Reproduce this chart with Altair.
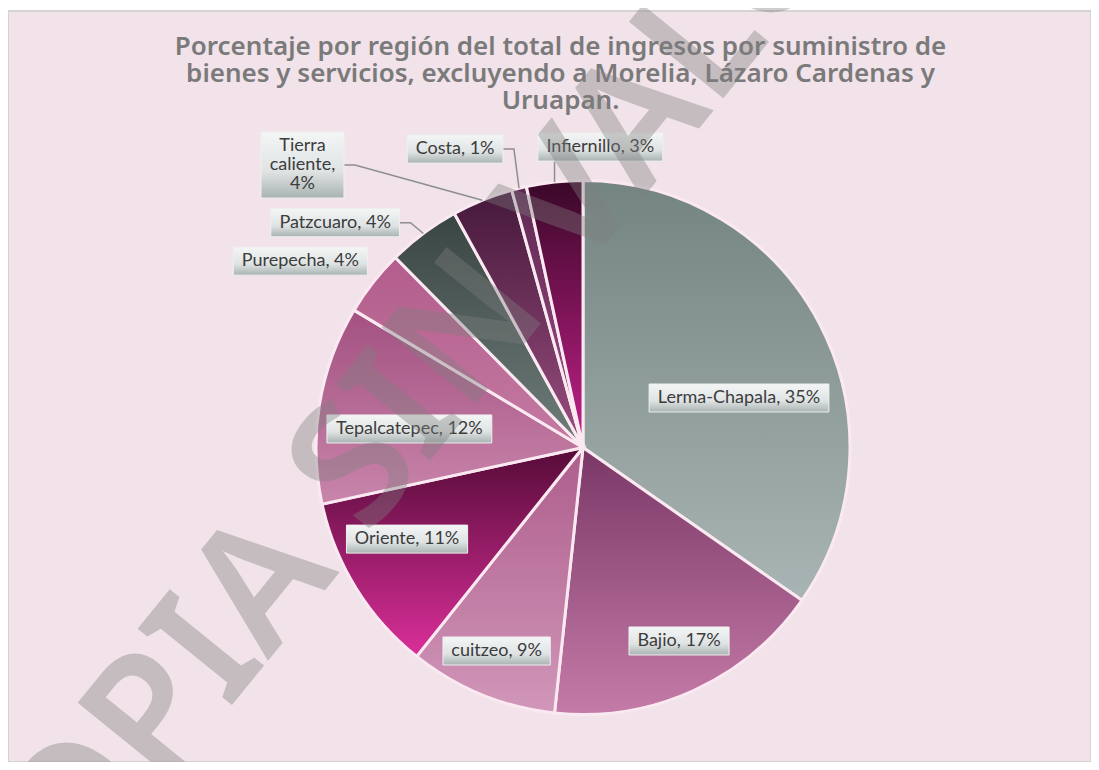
import math
import altair as alt
import pandas as pd

# ---------------- data ----------------
regions = ["Lerma-Chapala", "Bajio", "cuitzeo", "Oriente", "Tepalcatepec",
           "Purepecha", "Patzcuaro", "Tierra caliente", "Costa", "Infiernillo"]
shares = [34.7, 17.0, 9.0, 10.9, 12.0, 4.0, 4.4, 3.7, 0.9, 3.4]

title_lines = ["Porcentaje por región del total de ingresos por suministro de",
               "bienes y servicios, excluyendo a Morelia, Lázaro Cardenas y",
               "Uruapan."]
watermark = "COPIA SIN VALOR"

# ---------------- styling / layout ----------------
slice_top = ["#748481", "#7a3766", "#ad5d8c", "#560b38", "#a35181",
             "#b35d8c", "#394543", "#45183a", "#5e2750", "#3a0828"]
slice_bottom = ["#a9b5b4", "#c57ba8", "#d197b9", "#da2f99", "#c985ab",
                "#c47aa2", "#6f7d7b", "#9a4f80", "#a0508a", "#c4208a"]
# annotation placement of each label box (angle in degrees clockwise from 12h, distance in pie radii)
label_angle = [72.4, 153.6, 203.0, 242.5, 276.1, 303.4, 312.2, 315.2, 336.8, 3.3]
label_radius = [0.613, 0.809, 0.828, 0.743, 0.654, 1.268, 1.253, 1.491, 1.216, 1.127]
wrapped = ["Tierra caliente"]
leader_style = {"Patzcuaro": "right", "Tierra caliente": "right",
                "Costa": "right", "Infiernillo": "bottom"}

W, H = 1083, 751
CX, CY = 575.0, 436.5
R = 267
FS = 18
LH = 19

# approximate Lato advance widths (em)
CW = {"a": .50, "b": .56, "c": .46, "d": .56, "e": .52, "f": .32, "g": .50, "h": .56,
      "i": .24, "j": .24, "k": .50, "l": .24, "m": .83, "n": .56, "o": .56, "p": .56,
      "q": .56, "r": .36, "s": .42, "t": .35, "u": .56, "v": .50, "w": .77, "x": .49,
      "y": .50, "z": .45, "B": .62, "C": .67, "I": .28, "L": .49, "O": .78, "P": .59,
      "T": .57, "%": .76, ",": .22, " ": .26, "-": .36}


def text_w(s):
    return sum(CW.get(ch, .58) for ch in s) * FS


# ---------------- derived tables ----------------
rows, lab_rows, lead_rows = [], [], []
cum = 0.0
for i, (reg, s) in enumerate(zip(regions, shares)):
    start, end = cum, cum + s
    cum = end
    rows.append({"region": reg, "share": s, "start": start, "end": end})
    pct = f"{round(s)}%"
    if reg in wrapped:
        lines = reg.split(" ")
        lines[-1] += ","
        lines.append(pct)
    else:
        lines = [f"{reg}, {pct}"]
    txt = "\n".join(lines)
    bw = max(text_w(l) for l in lines) + 18
    bh = len(lines) * LH + 9
    a = math.radians(label_angle[i])
    px = label_radius[i] * R * math.sin(a)
    py = -label_radius[i] * R * math.cos(a)
    lab_rows.append({"region": reg, "text": txt, "px": px, "py": py,
                     "ty": py - (len(lines) - 1) * LH / 2,
                     "x0": px - bw / 2, "x1": px + bw / 2,
                     "y0": py - bh / 2, "y1": py + bh / 2})
    if reg in leader_style:
        mid = math.radians((start + end) / 2 * 3.6)
        ex, ey = R * math.sin(mid), -R * math.cos(mid)
        if leader_style[reg] == "right":
            pts = [(px + bw / 2, py), (px + bw / 2 + 11, py), (ex, ey)]
        else:
            pts = [(ex, py + bh / 2), (ex, ey)]
        for k, (lx, ly) in enumerate(pts):
            lead_rows.append({"region": reg, "k": k, "lx": lx, "ly": ly})

slices = pd.DataFrame(rows)
labels = pd.DataFrame(lab_rows)
leaders = pd.DataFrame(lead_rows)

xs = alt.Scale(domain=[-CX, W - CX], range=[0, W], nice=False, zero=False)
ys = alt.Scale(domain=[-CY, H - CY], range=[0, H], nice=False, zero=False)
ts = alt.Scale(domain=[0, 100], range=[0, 2 * math.pi])

layers = []
for i, reg in enumerate(regions):
    grad = alt.Gradient(gradient="linear",
                        stops=[alt.GradientStop(color=slice_top[i], offset=0),
                               alt.GradientStop(color=slice_bottom[i], offset=1)],
                        x1=0, x2=0, y1=0, y2=1)
    layers.append(
        alt.Chart(slices).transform_filter(alt.datum.region == reg)
        .mark_arc(outerRadius=R, fill=grad, stroke="#fbe9f1", strokeWidth=3)
        .encode(theta=alt.Theta("start:Q", scale=ts, stack=None),
                theta2="end:Q",
                x=alt.X(datum=0, type="quantitative", scale=xs, axis=None),
                y=alt.Y(datum=0, type="quantitative", scale=ys, axis=None))
    )

lead = alt.Chart(leaders).mark_line(color="#8e8e8e", strokeWidth=1.5).encode(
    x=alt.X("lx:Q", scale=xs, axis=None),
    y=alt.Y("ly:Q", scale=ys, axis=None),
    detail="region:N", order="k:Q")

box_grad = alt.Gradient(gradient="linear",
                        stops=[alt.GradientStop(color="#f4f6f6", offset=0),
                               alt.GradientStop(color="#dfe3e3", offset=0.6),
                               alt.GradientStop(color="#a9b2b2", offset=1)],
                        x1=0, x2=0, y1=0, y2=1)
boxes = alt.Chart(labels).mark_rect(fill=box_grad, stroke="#eef0f0", strokeWidth=1).encode(
    x=alt.X("x0:Q", scale=xs, axis=None), x2="x1:Q",
    y=alt.Y("y0:Q", scale=ys, axis=None), y2="y1:Q")

texts = alt.Chart(labels).mark_text(font="Lato", fontSize=FS, color="#3c3c3c",
                                    lineBreak="\n", lineHeight=LH,
                                    align="center", baseline="middle").encode(
    x=alt.X("px:Q", scale=xs, axis=None),
    y=alt.Y("ty:Q", scale=ys, axis=None),
    text="text:N")

title = alt.Chart(pd.DataFrame({"t": ["\n".join(title_lines)]})).mark_text(
    font="Noto Sans", fontSize=26, fontWeight=600, color="#7a7a7a",
    lineBreak="\n", lineHeight=27, align="center", baseline="alphabetic").encode(
    x=alt.value(552.5), y=alt.value(44), text="t:N")

wm = alt.Chart(pd.DataFrame({"t": [watermark]})).mark_text(
    font="Noto Sans", fontSize=170, fontWeight=600, color="#7f7f7f", opacity=0.38,
    angle=309, align="center", baseline="middle").encode(
    x=alt.value(420), y=alt.value(371), text="t:N")

chart = alt.layer(*layers, lead, boxes, texts, title, wm).properties(
    width=W, height=H, autosize="none",
    padding={"left": 0, "top": 3, "right": 0, "bottom": 0},
    background="white",
).configure_view(fill="#f1e3e9", stroke="#d6d2d4", strokeWidth=2)

chart.save("out.html", embed_options={"renderer": "svg", "actions": False})
